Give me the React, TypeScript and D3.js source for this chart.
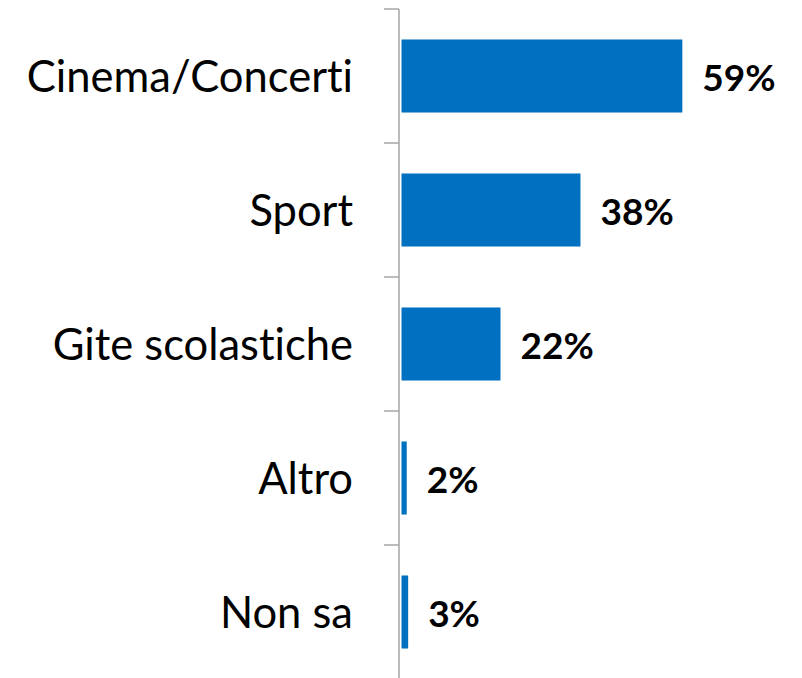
import React from 'react';
import * as d3 from 'd3';

const categories = ['Cinema/Concerti', 'Sport', 'Gite scolastiche', 'Altro', 'Non sa'];
const values = [59, 37.6, 20.8, 1.1, 1.4];
const valueLabels = ['59%', '38%', '22%', '2%', '3%'];

const W = 802;
const H = 678;
const margin = { top: 9, left: 399 };

const App = () => {
  const y = d3.scaleBand<string>()
    .domain(categories)
    .range([margin.top, margin.top + 134 * categories.length])
    .paddingInner(0.455)
    .paddingOuter(0.2275);

  const x = d3.scaleLinear()
    .domain([0, 100])
    .range([margin.left + 2.5, margin.left + 2.5 + 476]);

  const step = y.step();
  const tickYs = d3.range(categories.length + 1).map(i => margin.top + i * step);

  return (
    <svg width={W} height={H} style={{ position: 'absolute', left: 0, top: 0, background: '#fff' }}>
      {/* axis */}
      <line x1={margin.left} x2={margin.left} y1={margin.top} y2={H} stroke="#A6A6A6" strokeWidth={1.5} />
      {tickYs.map((ty, i) => (
        <line key={i} x1={margin.left - 15} x2={margin.left} y1={ty} y2={ty} stroke="#A6A6A6" strokeWidth={1.5} />
      ))}
      {categories.map((c, i) => {
        const by = y(c) as number;
        const cy = by + y.bandwidth() / 2;
        return (
          <g key={c}>
            <rect x={x(0)} y={by} width={x(values[i]) - x(0)} height={y.bandwidth()} fill="#0070C0" />
            <text
              x={margin.left - 46}
              y={cy + 15.5}
              textAnchor="end"
              fontFamily="Lato, sans-serif"
              fontSize={43.5}
              style={{ fontVariantLigatures: 'none' }}
              fill="#000"
            >{c}</text>
            <text
              x={x(values[i]) + 20}
              y={cy + 15}
              fontFamily="Lato, sans-serif"
              fontWeight="bold"
              fontSize={37}
              fill="#000"
            >{valueLabels[i]}</text>
          </g>
        );
      })}
    </svg>
  );
};

export default App;
